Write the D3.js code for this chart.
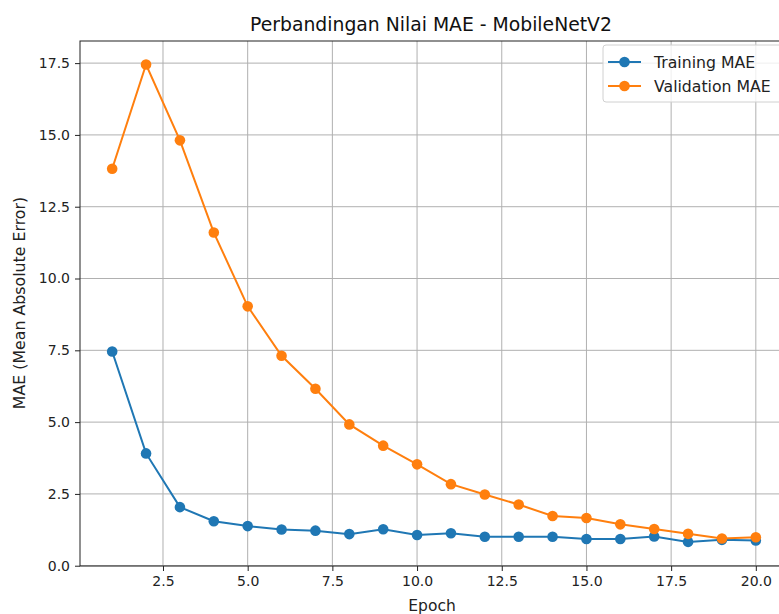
<!DOCTYPE html>
<html>
<head>
<meta charset="utf-8">
<script src="https://cdn.jsdelivr.net/npm/d3@7"></script>
<style>
  body { margin: 0; background: white; }
  svg { display: block; font-family: "DejaVu Sans", sans-serif; }
</style>
</head>
<body>
<svg id="chart"></svg>
<script>
// data
const epochs = d3.range(1, 21);
const trainingMae = [7.46, 3.91, 2.04, 1.55, 1.38, 1.26, 1.22, 1.1, 1.27, 1.07, 1.13, 1.01, 1.01, 1.01, 0.93, 0.93, 1.02, 0.83, 0.9, 0.88];
const validationMae = [13.82, 17.45, 14.81, 11.6, 9.03, 7.31, 6.16, 4.92, 4.18, 3.53, 2.84, 2.48, 2.13, 1.73, 1.66, 1.44, 1.28, 1.11, 0.95, 0.99];
const xTicks = [2.5, 5, 7.5, 10, 12.5, 15, 17.5, 20];
const yTicks = [0, 2.5, 5, 7.5, 10, 12.5, 15, 17.5];
const series = [
  { name: "Training MAE", values: trainingMae, color: "#1f77b4" },
  { name: "Validation MAE", values: validationMae, color: "#ff7f0e" }
];

const w = 779, h = 614;
const margin = { top: 41, right: -9, bottom: 48, left: 80 };
const iw = w - margin.left - margin.right;
const ih = h - margin.top - margin.bottom;

const svg = d3.select("#chart").attr("width", w).attr("height", h);

const x = d3.scaleLinear().domain([0.05, 20.95]).range([0, iw]);
const y = d3.scaleLinear().domain([-0.01, 18.27]).range([ih, 0]);

const g = svg.append("g").attr("transform", `translate(${margin.left},${margin.top})`);

// grid
g.append("g").selectAll("line").data(xTicks).join("line")
  .attr("x1", d => x(d)).attr("x2", d => x(d)).attr("y1", 0).attr("y2", ih)
  .attr("stroke", "#b0b0b0").attr("stroke-width", 1);
g.append("g").selectAll("line").data(yTicks).join("line")
  .attr("x1", 0).attr("x2", iw).attr("y1", d => y(d)).attr("y2", d => y(d))
  .attr("stroke", "#b0b0b0").attr("stroke-width", 1);

// axes
const xAxis = g.append("g").attr("transform", `translate(0,${ih})`)
  .call(d3.axisBottom(x).tickValues(xTicks).tickFormat(d3.format(".1f")).tickSize(5).tickPadding(5));
const yAxis = g.append("g")
  .call(d3.axisLeft(y).tickValues(yTicks).tickFormat(d3.format(".1f")).tickSize(5).tickPadding(5));
[xAxis, yAxis].forEach(a => {
  a.select(".domain").remove();
  a.selectAll("text").attr("font-size", 14).attr("fill", "#222").attr("font-family", "DejaVu Sans");
  a.selectAll("line").attr("stroke", "#222");
});

// frame
g.append("rect").attr("width", iw).attr("height", ih)
  .attr("fill", "none").attr("stroke", "#222").attr("stroke-width", 1);

// lines + markers
const line = d3.line().x((d, i) => x(epochs[i])).y(d => y(d));
series.forEach(s => {
  g.append("path").datum(s.values).attr("d", line)
    .attr("fill", "none").attr("stroke", s.color).attr("stroke-width", 2);
  g.append("g").selectAll("circle").data(s.values).join("circle")
    .attr("cx", (d, i) => x(epochs[i])).attr("cy", d => y(d)).attr("r", 5.3)
    .attr("fill", s.color);
});

// title and labels
svg.append("text").attr("x", 431).attr("y", 31)
  .attr("text-anchor", "middle").attr("font-size", 18.8).attr("fill", "#111")
  .text("Perbandingan Nilai MAE - MobileNetV2");
svg.append("text").attr("x", 432).attr("y", 611)
  .attr("text-anchor", "middle").attr("font-size", 15.5).attr("fill", "#222")
  .text("Epoch");
svg.append("text").attr("transform", `translate(25,303) rotate(-90)`)
  .attr("text-anchor", "middle").attr("font-size", 15.8).attr("fill", "#222")
  .text("MAE (Mean Absolute Error)");

// legend
const lg = svg.append("g").attr("transform", "translate(603,45)");
lg.append("rect").attr("width", 180).attr("height", 57).attr("rx", 3)
  .attr("fill", "white").attr("fill-opacity", 0.8).attr("stroke", "#d0d0d0");
series.forEach((s, i) => {
  const yy = 17 + i * 24;
  lg.append("line").attr("x1", 5).attr("x2", 38).attr("y1", yy).attr("y2", yy)
    .attr("stroke", s.color).attr("stroke-width", 2);
  lg.append("circle").attr("cx", 21.5).attr("cy", yy).attr("r", 5.3).attr("fill", s.color);
  lg.append("text").attr("x", 51).attr("y", yy + 5.5).attr("font-size", 15.7).attr("fill", "#222")
    .text(s.name);
});
</script>
</body>
</html>
